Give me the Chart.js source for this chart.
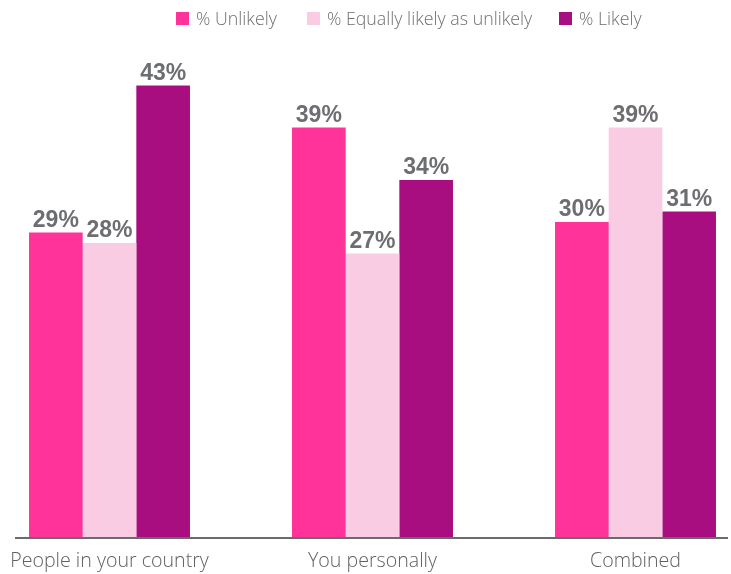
<!DOCTYPE html>
<html>
<head>
<meta charset="utf-8">
<script src="https://cdn.jsdelivr.net/npm/chart.js@4"></script>
<style>
  html, body { margin: 0; padding: 0; background: #fff; overflow: hidden; }
  #wrap { position: relative; width: 731px; height: 574px; }
  #legend { position: absolute; top: 0; left: 176px; height: 36px;
            font-family: "Open Sans", Roboto, sans-serif; font-weight: 300; font-size: 17.8px; color: #6e6f72; white-space: nowrap; }
  #legend .item { position: absolute; top: 6px; height: 24px; display: flex; align-items: center; }
  #legend .box { width: 13px; height: 13px; margin-right: 7px; }
</style>
</head>
<body>
<div id="wrap">
  <canvas id="chart" width="731" height="574"></canvas>
  <div id="legend"></div>
</div>
<script>
(function () {
    "use strict";

    // Data
    var categories = ["People in your country", "You personally", "Combined"];
    var unlikely = [29, 39, 30];
    var equally = [28, 27, 39];
    var likely = [43, 34, 31];
    var seriesNames = ["% Unlikely", "% Equally likely as unlikely", "% Likely"];
    var colors = ["#ff3399", "#f9cce3", "#a90e80"];


    // Value labels above bars
    var valueLabels = {
        id: "valueLabels",
        afterDatasetsDraw: function (chart) {
            var ctx = chart.ctx;
            ctx.save();
            ctx.font = "bold 23px 'Liberation Sans', Arial, sans-serif";
            ctx.fillStyle = "#6d6e71";
            ctx.textAlign = "center";
            ctx.textBaseline = "alphabetic";
            chart.data.datasets.forEach(function (ds, i) {
                chart.getDatasetMeta(i).data.forEach(function (bar, j) {
                    ctx.fillText(ds.data[j] + "%", bar.x, bar.y - 6);
                });
            });
            ctx.restore();
        }
    };

    // Baseline under the bars
    var baseline = {
        id: "baseline",
        afterDatasetsDraw: function (chart) {
            var first = chart.getDatasetMeta(0).data[0];
            var lastMeta = chart.getDatasetMeta(chart.data.datasets.length - 1);
            var last = lastMeta.data[lastMeta.data.length - 1];
            var ctx = chart.ctx;
            var y = chart.scales.y.getPixelForValue(0);
            ctx.save();
            ctx.strokeStyle = "#6b6b6b";
            ctx.lineWidth = 2;
            ctx.beginPath();
            ctx.moveTo(first.x - first.width / 2 - 14, y + 1);
            ctx.lineTo(last.x + last.width / 2 + 12, y + 1);
            ctx.stroke();
            ctx.restore();
        }
    };

    var datasets = [unlikely, equally, likely].map(function (vals, i) {
        return {
            label: seriesNames[i],
            data: vals,
            backgroundColor: colors[i],
            barPercentage: 1,
            categoryPercentage: 0.612,
            clip: false
        };
    });

    var ctx = document.getElementById("chart").getContext("2d");
    var myChart = new Chart(ctx, {
        type: "bar",
        data: { labels: categories, datasets: datasets },
        options: {
            responsive: false,
            animation: false,
            layout: { padding: { left: 109.5, right: 95.5, top: 64.5, bottom: 0 } },
            plugins: {
                legend: { display: false },
                tooltip: { enabled: false }
            },
            scales: {
                x: {
                    offset: false,
                    grid: { display: false, drawTicks: false },
                    border: { display: false },
                    ticks: {
                        color: "#5f6063",
                        padding: 13,
                        maxRotation: 0,
                        autoSkip: false,
                        font: { family: "'Open Sans', Roboto, sans-serif", size: 19.6, weight: "300" }
                    },
                    afterFit: function (axis) {
                        axis.height = 37;
                        axis.paddingLeft = 0;
                        axis.paddingRight = 0;
                    }
                },
                y: {
                    display: false,
                    min: 0,
                    max: 45
                }
            }
        },
        plugins: [valueLabels, baseline]
    });


    // Legend
    var legend = document.getElementById("legend");
    var starts = [0, 131, 383]; // item offsets from the legend's left edge
    myChart.data.datasets.forEach(function (ds, i) {
        var item = document.createElement("div");
        item.className = "item";
        item.style.left = starts[i] + "px";
        var box = document.createElement("span");
        box.className = "box";
        box.style.background = ds.backgroundColor;
        var txt = document.createElement("span");
        txt.textContent = ds.label;
        item.appendChild(box);
        item.appendChild(txt);
        legend.appendChild(item);
    });
})();
</script>
</body>
</html>
